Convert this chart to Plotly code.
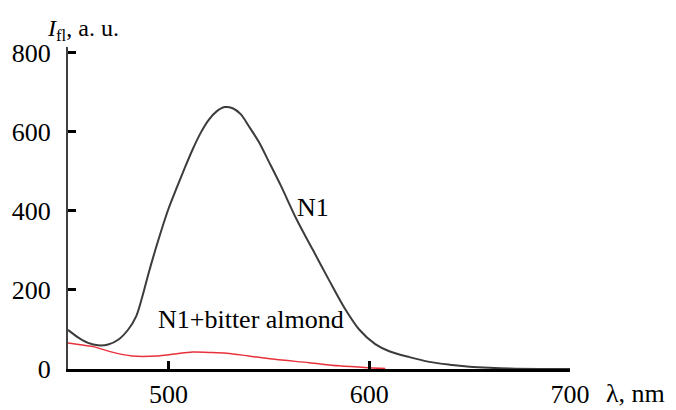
import plotly.graph_objects as go

# N1 spectrum (black)
wl_n1 = [450, 455, 460, 465, 470, 475, 480, 484, 487, 490, 493, 496, 500, 504, 508,
         512, 516, 520, 524, 528, 532, 536, 540, 545, 550, 556, 564, 572, 580, 588,
         595, 603, 610, 620, 630, 640, 650, 660, 670, 685, 700]
int_n1 = [99, 80, 66, 60, 62, 74, 100, 134, 183, 240, 293, 343, 405, 457, 507,
          555, 597, 630, 652, 663, 660, 645, 615, 575, 525, 464, 377, 301, 225, 152,
          100, 63, 45, 30, 18, 11, 6, 3, 1, 0, 0]

# N1 + bitter almond (red)
wl_mix = [450, 458, 463, 471, 482, 494, 503, 512, 520, 529, 540, 552, 570, 585, 600, 608]
int_mix = [66, 60, 56, 44, 33, 33, 38, 43, 42, 40, 33, 25, 16, 8, 3, 1]

x_ticks = [500, 600, 700]
y_ticks = [0, 200, 400, 600, 800]

FONT = "Liberation Serif"

fig = go.Figure()
fig.add_trace(go.Scatter(x=wl_mix, y=int_mix, mode="lines",
                         line=dict(color="#e8313b", width=1.5, shape="spline", smoothing=0.9),
                         showlegend=False))
fig.add_trace(go.Scatter(x=wl_n1, y=int_n1, mode="lines",
                         line=dict(color="#3c3c3c", width=2, shape="spline", smoothing=0.9),
                         showlegend=False))

fig.update_layout(
    width=676, height=410,
    margin=dict(l=68, r=106, t=47, b=41, autoexpand=False),
    paper_bgcolor="white", plot_bgcolor="white",
    font=dict(family=FONT, size=26, color="black"),
    xaxis=dict(range=[450, 700], tickvals=x_ticks, showgrid=False, zeroline=False,
               showline=True, linecolor="black", linewidth=3, automargin=False,
               ticks="inside", ticklen=8, tickwidth=3, tickcolor="black",
               ticklabelstandoff=0, tickfont=dict(family=FONT, size=26)),
    yaxis=dict(range=[0, 815], tickvals=y_ticks, showgrid=False, zeroline=False,
               showline=True, linecolor="#404040", linewidth=2, automargin=False,
               ticks="inside", ticklen=8, tickwidth=3, tickcolor="black",
               ticklabelstandoff=10, tickfont=dict(family=FONT, size=26)),
    annotations=[
        dict(x=572, y=408, xref="x", yref="y", text="N1", showarrow=False,
             font=dict(family=FONT, size=26)),
        dict(x=541, y=126, xref="x", yref="y", text="N1+bitter almond", showarrow=False,
             font=dict(family=FONT, size=26)),
        dict(x=45, y=30, xref="paper", yref="paper", xanchor="left", yanchor="middle",
             text="<i>I</i><sub>fl</sub>, a. u.", showarrow=False,
             font=dict(family=FONT, size=24)),
        dict(x=604, y=393, xref="paper", yref="paper", xanchor="left", yanchor="middle",
             text="λ, nm", showarrow=False, font=dict(family=FONT, size=26)),
    ],
)
# convert pixel positions for paper annotations
W, H = 676, 410
l, r, t, b = 68, 106, 47, 41
pw, ph = W - l - r, H - t - b
for a in fig.layout.annotations:
    if a.xref == "paper":
        px, py = a.x, a.y
        a.x = (px - l) / pw
        a.y = 1 - (py - t) / ph

fig.write_html("out.html")
